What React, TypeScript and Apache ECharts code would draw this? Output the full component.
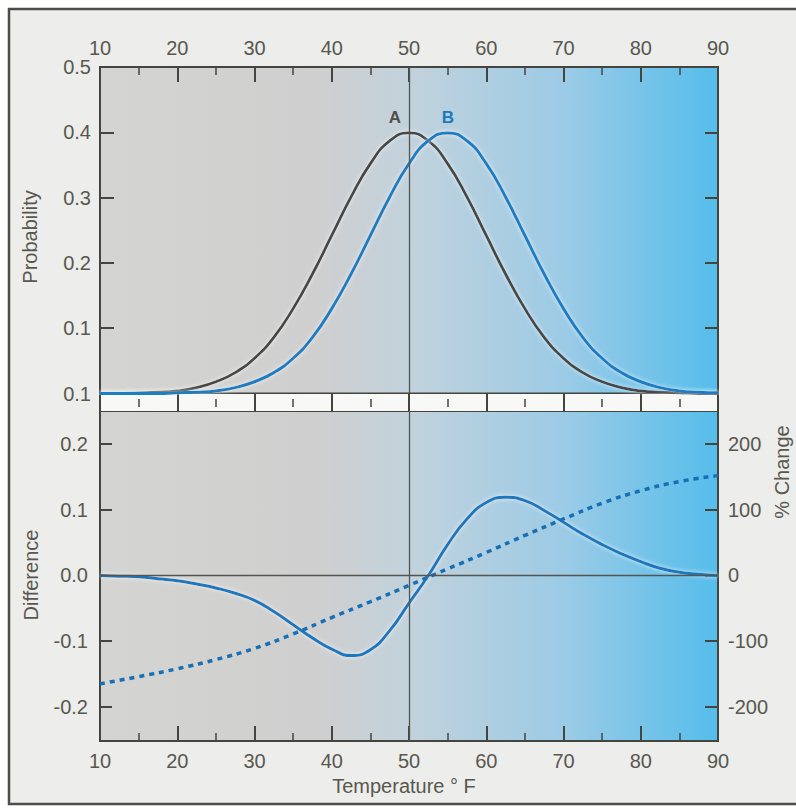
import React, { useEffect, useRef } from "react";
import * as echarts from "echarts";

// ---- data ----
const temps = [10, 12.5, 15, 17.5, 20, 22.5, 25, 27.5, 30, 32.5, 35, 37.5, 40, 42.5, 45, 47.5, 50, 52.5, 55, 57.5, 60, 62.5, 65, 67.5, 70, 72.5, 75, 77.5, 80, 82.5, 85, 87.5, 90];
const probA = [0.0, 0.0, 0.001, 0.002, 0.004, 0.009, 0.018, 0.032, 0.054, 0.086, 0.13, 0.183, 0.242, 0.301, 0.352, 0.387, 0.399, 0.387, 0.352, 0.301, 0.242, 0.183, 0.13, 0.086, 0.054, 0.032, 0.018, 0.009, 0.004, 0.002, 0.001, 0.0, 0.0];
const probB = [0.0, 0.0, 0.0, 0.0, 0.001, 0.002, 0.004, 0.009, 0.018, 0.032, 0.054, 0.086, 0.13, 0.183, 0.242, 0.301, 0.352, 0.387, 0.399, 0.387, 0.352, 0.301, 0.242, 0.183, 0.13, 0.086, 0.054, 0.032, 0.018, 0.009, 0.004, 0.002, 0.001];
const difference = [0.0, -0.001, -0.002, -0.005, -0.008, -0.013, -0.019, -0.027, -0.038, -0.055, -0.075, -0.095, -0.112, -0.122, -0.113, -0.084, -0.042, 0.0, 0.047, 0.086, 0.111, 0.119, 0.114, 0.099, 0.081, 0.063, 0.047, 0.033, 0.021, 0.011, 0.005, 0.002, 0.0];
const pctTemps = [10, 15, 20, 25, 30, 35, 40, 45, 50, 55, 60, 65, 70, 75, 80, 85, 90];
const pctChange = [-165, -154, -142, -128, -111, -89, -64, -40, -15, 10, 35, 61, 86, 110, 129, 143, 152];
const probTickLabels = ["0.1", "0.1", "0.2", "0.3", "0.4", "0.5"];
const diffTicks = [-0.2, -0.1, 0, 0.1, 0.2];
const diffTickLabels = ["-0.2", "-0.1", "0.0", "0.1", "0.2"];
const pctTicks = [-200, -100, 0, 100, 200];

const FONT = "Liberation Sans, Arial, sans-serif";
const TXT = "#58584f";
const AXIS = "#45453f";

function gradient() {
  return new echarts.graphic.LinearGradient(0, 0, 1, 0, [
    { offset: 0, color: "#d4d4d2" },
    { offset: 0.35, color: "#cfcfcf" },
    { offset: 0.5, color: "#c2d2dc" },
    { offset: 0.75, color: "#9ccbe6" },
    { offset: 1, color: "#55bdeb" },
  ]);
}

export default function App() {
  const ref = useRef<HTMLDivElement>(null);
  useEffect(() => {
    document.body.style.margin = "0";
    document.body.style.overflow = "hidden";
    if (!ref.current) return;
    const chart = echarts.init(ref.current, null, { renderer: "svg" });
    const labelStyle = { color: TXT, fontSize: 20, fontFamily: FONT };
    const vline = {
      silent: true,
      symbol: ["none", "none"],
      label: { show: false },
      lineStyle: { color: "#55554f", width: 1.3, type: "solid" },
      data: [{ xAxis: 50 }],
    };
    const halo = { shadowColor: "rgba(255,255,255,0.75)", shadowBlur: 4 };
    const txt = (text: string, x: number, y: number, rot: number, extra: any = {}) => ({
      type: "text", x, y, rotation: rot, silent: true,
      style: { text, fill: TXT, fontSize: 20, fontFamily: FONT, align: "center", verticalAlign: "middle", ...extra },
    });
    chart.setOption({
      animation: false,
      grid: [
        { left: 100, top: 67, width: 618, height: 326.5, show: true, backgroundColor: gradient(), borderColor: AXIS, borderWidth: 2 },
        { left: 100, top: 411, width: 618, height: 330, show: true, backgroundColor: gradient(), borderColor: AXIS, borderWidth: 2 },
        { left: 100, top: 394, width: 618, height: 17, show: true, backgroundColor: "#f8f8f6", borderWidth: 0 },
      ],
      xAxis: [
        {
          gridIndex: 0, type: "value", position: "top", min: 10, max: 90, interval: 10,
          axisLine: { show: true, onZero: false, lineStyle: { color: AXIS, width: 2 } },
          axisTick: { show: true, inside: true, length: 15, lineStyle: { color: AXIS, width: 2 } },
          minorTick: { show: true, splitNumber: 2, length: 8, lineStyle: { color: AXIS, width: 1.5 } },
          axisLabel: { ...labelStyle, margin: 9 },
          splitLine: { show: false },
        },
        {
          gridIndex: 1, type: "value", position: "bottom", min: 10, max: 90, interval: 10,
          axisLine: { show: true, onZero: false, lineStyle: { color: AXIS, width: 2 } },
          axisTick: { show: true, inside: true, length: 15, lineStyle: { color: AXIS, width: 2 } },
          minorTick: { show: true, splitNumber: 2, length: 8, lineStyle: { color: AXIS, width: 1.5 } },
          axisLabel: { ...labelStyle, margin: 10 },
          splitLine: { show: false },
        },
        {
          gridIndex: 2, type: "value", position: "bottom", min: 10, max: 90, interval: 10,
          axisLine: { show: false, onZero: false }, axisTick: { show: false }, axisLabel: { show: false },
          splitLine: { show: true, lineStyle: { color: AXIS, width: 2 } },
        },
        {
          gridIndex: 2, type: "value", position: "bottom", offset: -4, min: 10, max: 90, interval: 5,
          axisLine: { show: false, onZero: false },
          axisTick: { show: true, inside: true, length: 8, lineStyle: { color: AXIS, width: 1.5 } },
          axisLabel: { show: false }, splitLine: { show: false },
        },
      ],
      yAxis: [
        {
          gridIndex: 0, type: "value", min: 0, max: 0.5, interval: 0.1,
          axisLine: { show: true, onZero: false, lineStyle: { color: AXIS, width: 2 } },
          axisTick: { show: true, inside: true, length: 14, lineStyle: { color: AXIS, width: 2 } },
          axisLabel: { ...labelStyle, margin: 9, formatter: (v: number) => probTickLabels[Math.round(v * 10)] },
          splitLine: { show: false },
        },
        {
          gridIndex: 0, type: "value", position: "right", min: 0, max: 0.5, interval: 0.1,
          axisLine: { show: true, onZero: false, lineStyle: { color: AXIS, width: 2 } },
          axisTick: { show: true, inside: true, length: 13, lineStyle: { color: AXIS, width: 2 } },
          axisLabel: { show: false }, splitLine: { show: false },
        },
        {
          gridIndex: 1, type: "value", min: -0.252, max: 0.2504,
          axisLine: { show: true, onZero: false, lineStyle: { color: AXIS, width: 2 } },
          axisTick: { show: true, inside: true, length: 12, customValues: diffTicks, lineStyle: { color: AXIS, width: 2 } },
          axisLabel: { ...labelStyle, margin: 12, customValues: diffTicks, formatter: (v: number) => diffTickLabels[diffTicks.findIndex((d) => Math.abs(d - v) < 1e-6)] ?? "" },
          splitLine: { show: false },
        },
        {
          gridIndex: 1, type: "value", position: "right", min: -252, max: 250.4,
          axisLine: { show: true, onZero: false, lineStyle: { color: AXIS, width: 2 } },
          axisTick: { show: true, inside: true, length: 13, customValues: pctTicks, lineStyle: { color: AXIS, width: 2 } },
          axisLabel: { ...labelStyle, margin: 10, customValues: pctTicks },
          splitLine: { show: false },
        },
        { gridIndex: 2, type: "value", min: 0, max: 1, show: false },
      ],
      series: [
        {
          type: "line", name: "A", xAxisIndex: 0, yAxisIndex: 0, smooth: 0.5, showSymbol: false, silent: true,
          data: temps.map((t, i) => [t, probA[i]]),
          lineStyle: { color: "#474744", width: 2.8, ...halo },
          markLine: vline,
        },
        {
          type: "line", name: "B", xAxisIndex: 0, yAxisIndex: 0, smooth: 0.5, showSymbol: false, silent: true,
          data: temps.map((t, i) => [t, probB[i]]),
          lineStyle: { color: "#1b7ec2", width: 3, ...halo },
        },
        {
          type: "line", name: "Difference", xAxisIndex: 1, yAxisIndex: 2, smooth: 0.5, showSymbol: false, silent: true,
          data: temps.map((t, i) => [t, difference[i]]),
          lineStyle: { color: "#1b78bc", width: 3, ...halo },
          markLine: { ...vline, data: [{ xAxis: 50 }, { yAxis: 0 }] },
          z: 3,
        },
        {
          type: "line", name: "% Change", xAxisIndex: 1, yAxisIndex: 3, smooth: 0.5, showSymbol: false, silent: true,
          data: pctTemps.map((t, i) => [t, pctChange[i]]),
          lineStyle: { color: "#176fb5", width: 3.5, type: [5, 5] },
          z: 4,
        },
      ],
      graphic: [
        { type: "rect", z: -10, silent: true, shape: { x: 9, y: 9, width: 790, height: 795 }, style: { fill: "#ededeb", stroke: "#4c4c48", lineWidth: 2.5 } },
        txt("Probability", 29.5, 237, Math.PI / 2),
        txt("Difference", 30.5, 575, Math.PI / 2),
        txt("% Change", 782, 472, Math.PI / 2),
        txt("Temperature ° F", 404, 786, 0),
        txt("A", 395, 117, 0, { fill: "#505049", fontSize: 17, fontWeight: "bold" }),
        txt("B", 448, 117, 0, { fill: "#1b79c0", fontSize: 17, fontWeight: "bold" }),
      ],
    });
    return () => chart.dispose();
  }, []);
  return <div ref={ref} style={{ width: 796, height: 808 }} />;
}
